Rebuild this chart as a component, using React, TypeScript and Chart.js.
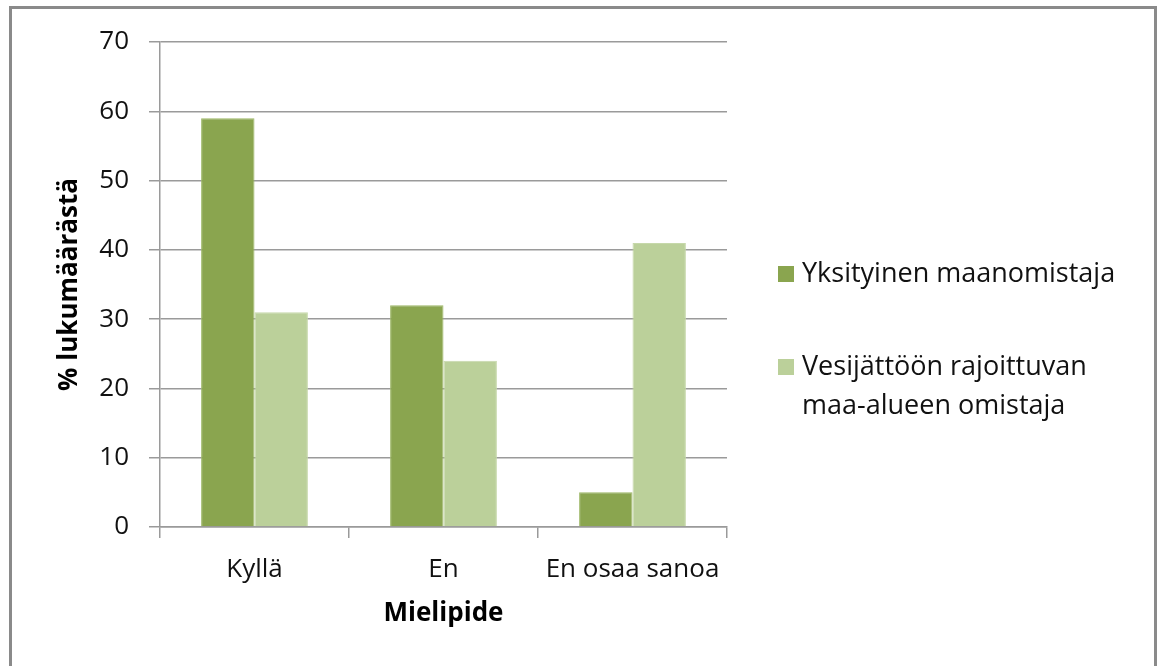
import React, { useEffect, useRef } from "react";
import { Chart, registerables } from "chart.js";

Chart.register(...registerables);

const categories = ["Kyllä", "En", "En osaa sanoa"];
const seriesNames = ["Yksityinen maanomistaja", "Vesijättöön rajoittuvan maa-alueen omistaja"];
const seriesLegendLines = [["Yksityinen maanomistaja"], ["Vesijättöön rajoittuvan", "maa-alueen omistaja"]];
const privateOwner = [59, 32, 5];
const shoreOwner = [31, 24, 41];
const seriesColors = ["#8AA54F", "#BBD09A"];
const yMin = 0;
const yMax = 70;
const yStep = 10;
const xTitle = "Mielipide";
const yTitle = "% lukumäärästä";

const FONT = "'Open Sans', Lato, sans-serif";
const GRID = "#9a9a9a";
const FS = 26;

export default function App() {
  const ref = useRef<HTMLCanvasElement | null>(null);
  useEffect(() => {
    document.body.style.margin = "0";
    const ctx = ref.current!;
    const chart = new Chart(ctx, {
      type: "bar",
      data: {
        labels: categories,
        datasets: [
          {
            label: seriesNames[0],
            data: privateOwner,
            backgroundColor: seriesColors[0],
            borderColor: "#9DB766",
            borderWidth: 1,
            categoryPercentage: 0.565,
            barPercentage: 1,
          },
          {
            label: seriesNames[1],
            data: shoreOwner,
            backgroundColor: seriesColors[1],
            borderColor: "#C6D8AA",
            borderWidth: 1,
            categoryPercentage: 0.565,
            barPercentage: 1,
          },
        ],
      },
      options: {
        animation: false,
        responsive: false,
        layout: { padding: { left: 50, top: 42, right: 430, bottom: 33 } },
        plugins: { legend: { display: false }, tooltip: { enabled: false } },
        scales: {
          x: {
            grid: { drawOnChartArea: false, drawTicks: true, tickLength: 11, color: GRID, lineWidth: 1.5, offset: true },
            border: { display: true, color: GRID, width: 1.5 },
            ticks: { color: "#111", font: { family: FONT, size: FS }, padding: 16, maxRotation: 0 },
            title: { display: true, text: xTitle, color: "#000", font: { family: FONT, size: FS, weight: "bold" } },
            afterFit: (s: any) => { s.height = 106; },
          },
          y: {
            min: yMin,
            max: yMax,
            grid: { color: GRID, lineWidth: 1.5, tickLength: 11, drawTicks: true },
            border: { display: true, color: GRID, width: 1.5 },
            ticks: { stepSize: yStep, color: "#111", font: { family: FONT, size: FS }, padding: 20 },
            title: { display: true, text: yTitle, color: "#000", font: { family: FONT, size: FS, weight: "bold" } },
            afterFit: (s: any) => { s.width = 110; },
          },
        },
      },
    });
    return () => chart.destroy();
  }, []);

  return (
    <div style={{ position: "fixed", left: 0, top: 0, width: 1157, height: 666, background: "#fff", overflow: "hidden" }}>
      <div style={{ position: "absolute", left: 9, top: 6, width: 1148, height: 700, border: "3px solid #8a8a8a", boxSizing: "border-box" }} />
      <canvas ref={ref} width={1157} height={666} style={{ position: "absolute", left: 0, top: 0 }} />
      <div style={{ position: "absolute", left: 778, top: 252, fontFamily: FONT, fontSize: 27, color: "#111", lineHeight: "39px", whiteSpace: "nowrap" }}>
        {seriesLegendLines.map((lines, i) => (
          <div key={i} style={{ position: "relative", paddingLeft: 24, marginBottom: i === 0 ? 54 : 0 }}>
            <span style={{ position: "absolute", left: 0, top: 14, width: 16, height: 16, background: seriesColors[i] }} />
            {lines.map((l, j) => (<div key={j}>{l}</div>))}
          </div>
        ))}
      </div>
    </div>
  );
}
